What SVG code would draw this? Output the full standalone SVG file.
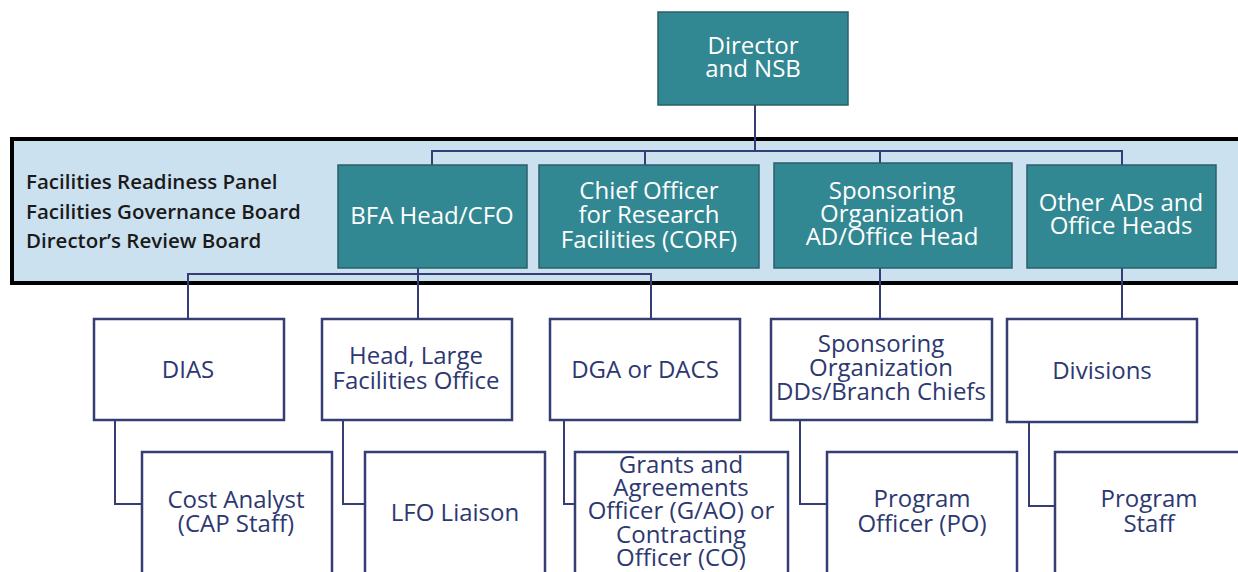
<svg xmlns="http://www.w3.org/2000/svg" width="1238" height="572" viewBox="0 0 1238 572">
<style>
.bg{fill:#ffffff}
.panel{fill:#cce1ef;stroke:#000000;stroke-width:4}
.teal{fill:#318792;stroke:#2a5f68;stroke-width:1.5}
.wbox{fill:#ffffff;stroke:#343e74;stroke-width:2.5}
.conn{fill:none;stroke:#343e74;stroke-width:2}
.wt{font-family:"Open Sans","Noto Sans","DejaVu Sans",sans-serif;font-size:24px;fill:#ffffff;text-anchor:middle;font-weight:500}
.nt{font-family:"Open Sans","Noto Sans","DejaVu Sans",sans-serif;font-size:24px;fill:#2e3870;text-anchor:middle}
.pt{font-family:"Open Sans","Noto Sans","DejaVu Sans",sans-serif;font-size:20.5px;fill:#1a1a1a;font-weight:600}
</style>
<rect class="bg" x="0" y="0" width="1238" height="572"/>
<rect id="panel" class="panel" x="12" y="139" width="1240" height="144"/>
<g id="panel-labels">
<text class="pt" x="26" y="189">Facilities Readiness Panel</text>
<text class="pt" x="26" y="219">Facilities Governance Board</text>
<text class="pt" x="26" y="248">Director’s Review Board</text>
</g>
<g id="connectors">
<path class="conn" d="M755 105 V151"/>
<path class="conn" d="M432 165 V151 H1122 V165"/>
<path class="conn" d="M645 151 V165"/>
<path class="conn" d="M880 151 V163"/>
<path class="conn" d="M418 268 V319"/>
<path class="conn" d="M188 319 V274 H651 V319"/>
<path class="conn" d="M880 268 V319"/>
<path class="conn" d="M1122 268 V319"/>
<path class="conn" d="M115 420 V504 H142"/>
<path class="conn" d="M343 420 V504 H365"/>
<path class="conn" d="M564 420 V504 H575"/>
<path class="conn" d="M800 420 V504 H827"/>
<path class="conn" d="M1029 422 V506 H1055"/>
</g>
<g id="director">
<rect class="teal" x="658" y="12" width="190" height="93"/>
<text class="wt" x="753" y="54">Director</text>
<text class="wt" x="753" y="77">and NSB</text>
</g>
<g id="bfa">
<rect class="teal" x="338" y="165" width="189" height="103"/>
<text class="wt" x="432" y="224">BFA Head/CFO</text>
</g>
<g id="corf">
<rect class="teal" x="539" y="165" width="220" height="103"/>
<text class="wt" x="649" y="199">Chief Officer</text>
<text class="wt" x="649" y="223">for Research</text>
<text class="wt" x="649" y="248">Facilities (CORF)</text>
</g>
<g id="sponsoring-ad">
<rect class="teal" x="774" y="163" width="238" height="105"/>
<text class="wt" x="892" y="199">Sponsoring</text>
<text class="wt" x="892" y="222">Organization</text>
<text class="wt" x="892" y="245">AD/Office Head</text>
</g>
<g id="other-ads">
<rect class="teal" x="1027" y="165" width="189" height="103"/>
<text class="wt" x="1121" y="211">Other ADs and</text>
<text class="wt" x="1121" y="234">Office Heads</text>
</g>
<g id="dias">
<rect class="wbox" x="94" y="319" width="190" height="101"/>
<text class="nt" x="188" y="378">DIAS</text>
</g>
<g id="lfo">
<rect class="wbox" x="322" y="319" width="190" height="101"/>
<text class="nt" x="416" y="364">Head, Large</text>
<text class="nt" x="416" y="389">Facilities Office</text>
</g>
<g id="dga">
<rect class="wbox" x="550" y="319" width="190" height="101"/>
<text class="nt" x="645" y="378">DGA or DACS</text>
</g>
<g id="sponsoring-dd">
<rect class="wbox" x="771" y="319" width="221" height="101"/>
<text class="nt" x="881" y="352">Sponsoring</text>
<text class="nt" x="881" y="376">Organization</text>
<text class="nt" x="881" y="400">DDs/Branch Chiefs</text>
</g>
<g id="divisions">
<rect class="wbox" x="1007" y="319" width="190" height="103"/>
<text class="nt" x="1102" y="379">Divisions</text>
</g>
<g id="cost-analyst">
<rect class="wbox" x="142" y="452" width="190" height="130"/>
<text class="nt" x="236" y="508">Cost Analyst</text>
<text class="nt" x="236" y="532">(CAP Staff)</text>
</g>
<g id="lfo-liaison">
<rect class="wbox" x="365" y="452" width="180" height="130"/>
<text class="nt" x="455" y="521">LFO Liaison</text>
</g>
<g id="grants">
<rect class="wbox" x="575" y="452" width="213" height="130"/>
<text class="nt" x="681" y="473">Grants and</text>
<text class="nt" x="681" y="496">Agreements</text>
<text class="nt" x="681" y="519">Officer (G/AO) or</text>
<text class="nt" x="681" y="543">Contracting</text>
<text class="nt" x="681" y="566">Officer (CO)</text>
</g>
<g id="program-officer">
<rect class="wbox" x="827" y="452" width="190" height="130"/>
<text class="nt" x="922" y="507">Program</text>
<text class="nt" x="922" y="532">Officer (PO)</text>
</g>
<g id="program-staff">
<rect class="wbox" x="1055" y="452" width="200" height="130"/>
<text class="nt" x="1149" y="507">Program</text>
<text class="nt" x="1149" y="532">Staff</text>
</g>
</svg>
